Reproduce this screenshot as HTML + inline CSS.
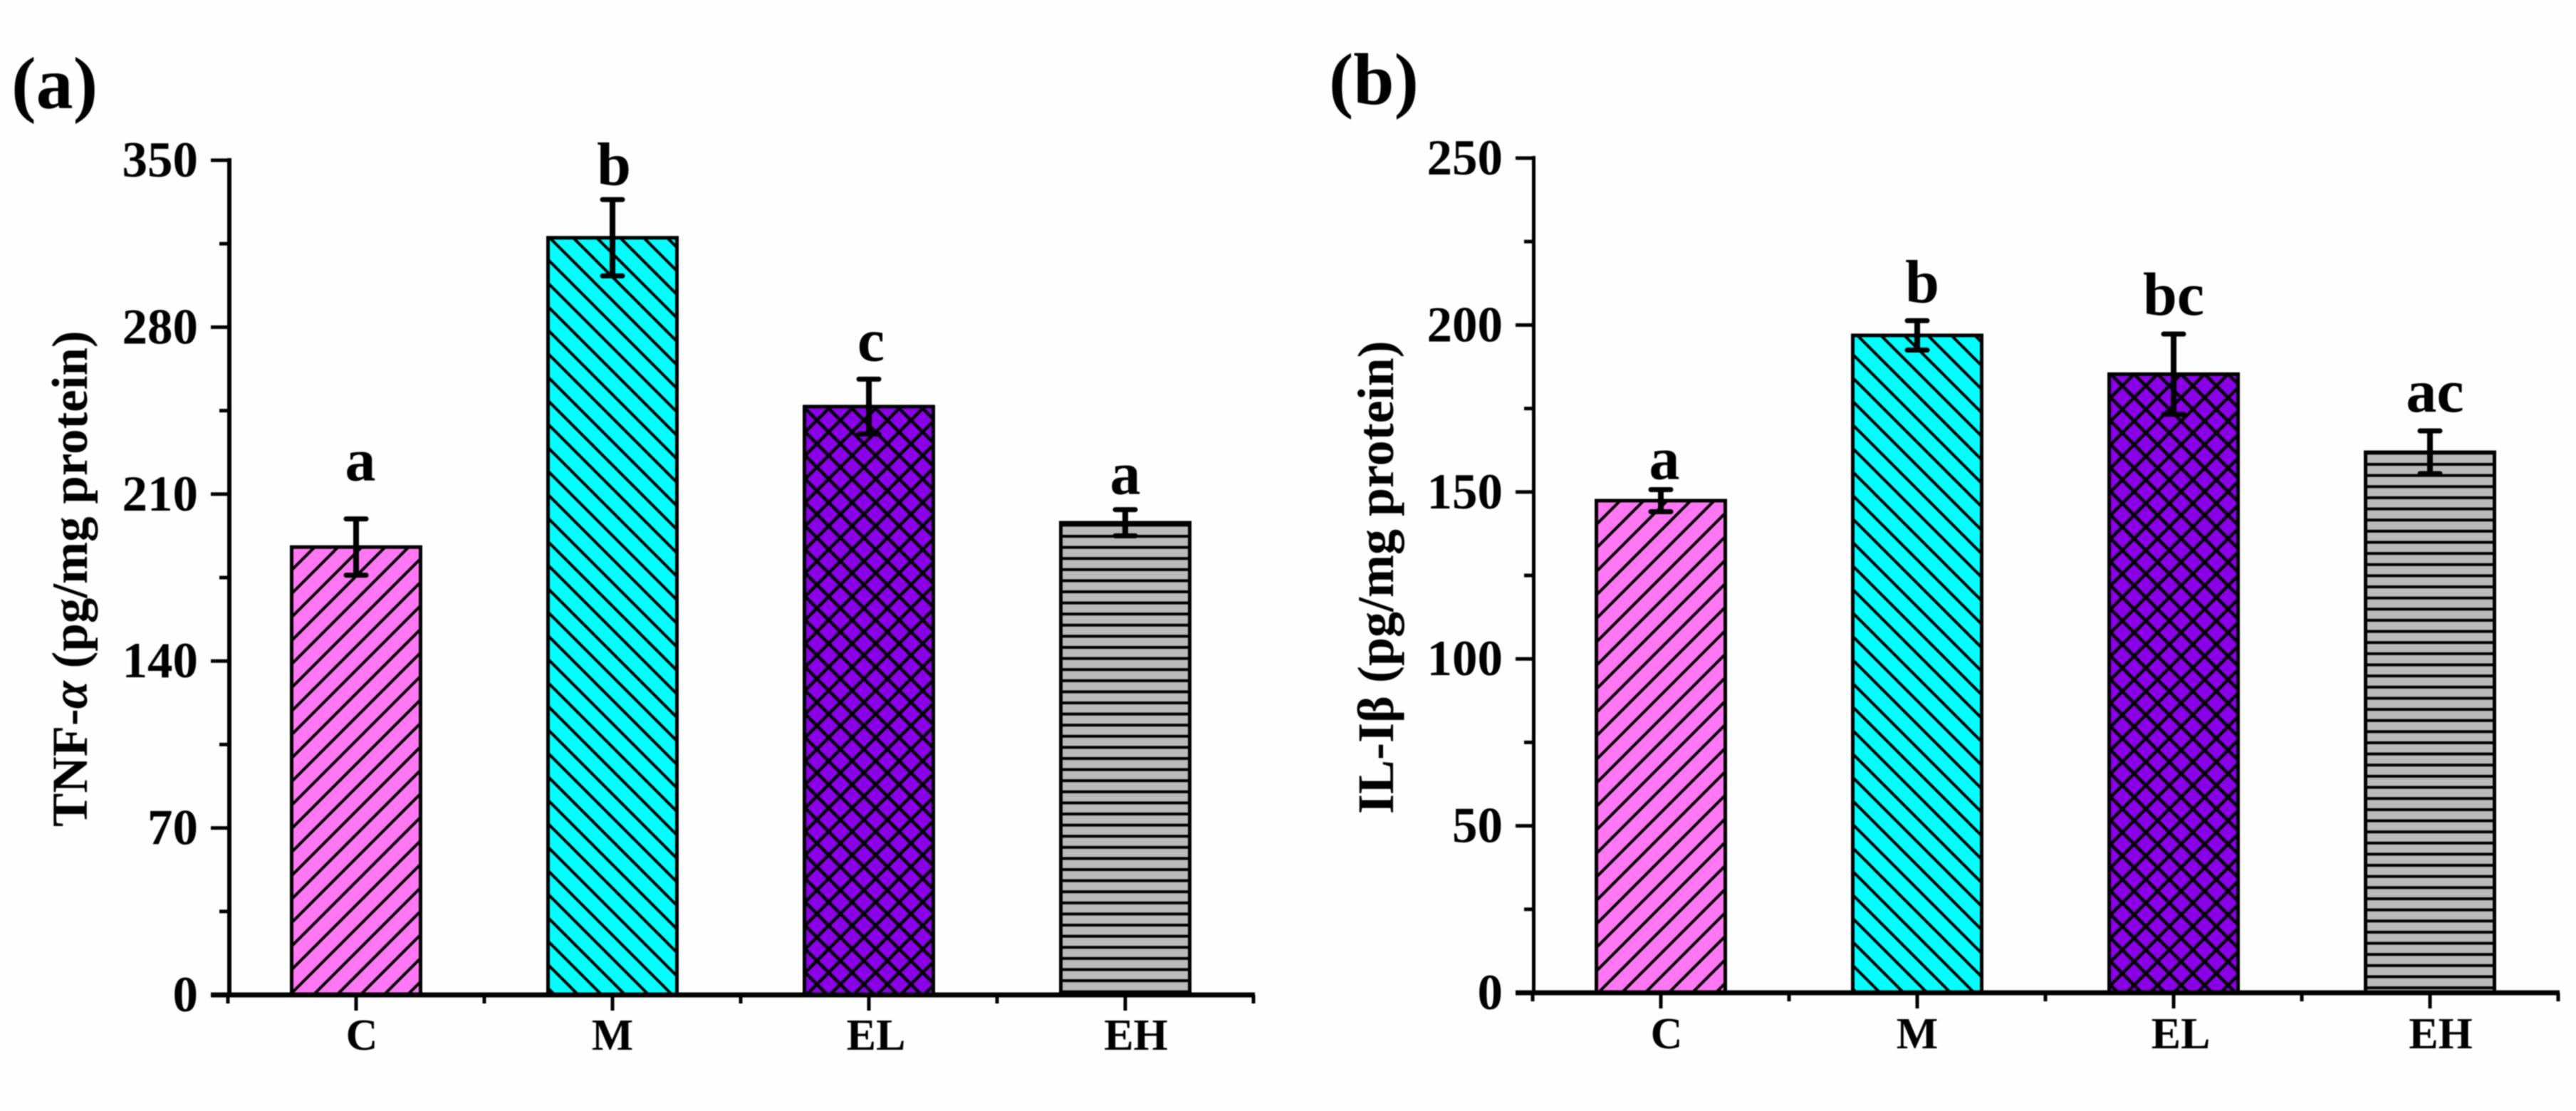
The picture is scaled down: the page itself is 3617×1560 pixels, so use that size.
<!DOCTYPE html>
<html lang="en">
<head>
<meta charset="utf-8">
<title>TNF-α and IL-1β bar charts</title>
<style>
  html, body { margin: 0; padding: 0; background: #fefefe; }
  #figure { display: block; width: 3617px; height: 1560px; filter: blur(0.9px); }
  text { font-family: "Liberation Serif", "DejaVu Serif", serif; font-weight: bold; fill: #000; }
</style>
</head>
<body>
<svg id="figure" xmlns="http://www.w3.org/2000/svg" width="3617" height="1560" viewBox="0 0 3617 1560">
  <defs>
    <pattern id="hatch-pink-a" patternUnits="userSpaceOnUse" width="33" height="33" patternTransform="translate(22 0)">
      <path d="M-4 37L37 -4M-4 4L4 -4M29 37L37 29" stroke="#000" stroke-width="4" fill="none"/>
    </pattern>
    <pattern id="hatch-pink-b" patternUnits="userSpaceOnUse" width="33" height="33" patternTransform="translate(8 0)">
      <path d="M-4 37L37 -4M-4 4L4 -4M29 37L37 29" stroke="#000" stroke-width="4" fill="none"/>
    </pattern>
    <pattern id="hatch-cyan-a" patternUnits="userSpaceOnUse" width="33" height="33" patternTransform="translate(9 0)">
      <path d="M-4 -4L37 37M-4 29L4 37M29 -4L37 4" stroke="#000" stroke-width="4" fill="none"/>
    </pattern>
    <pattern id="hatch-cyan-b" patternUnits="userSpaceOnUse" width="33" height="33" patternTransform="translate(25 0)">
      <path d="M-4 -4L37 37M-4 29L4 37M29 -4L37 4" stroke="#000" stroke-width="4" fill="none"/>
    </pattern>
    <pattern id="hatch-purple-a" patternUnits="userSpaceOnUse" width="33" height="33" patternTransform="translate(21 0)">
      <path d="M-4 37L37 -4M-4 4L4 -4M29 37L37 29" stroke="#000" stroke-width="4.5" fill="none"/>
      <path d="M-40 -40L80 80M-40 -7L80 113M-7 -40L113 80" stroke="#000" stroke-width="4.5" fill="none" transform="translate(8 0)"/>
    </pattern>
    <pattern id="hatch-purple-b" patternUnits="userSpaceOnUse" width="33" height="33" patternTransform="translate(23.7 0)">
      <path d="M-4 37L37 -4M-4 4L4 -4M29 37L37 29" stroke="#000" stroke-width="4.5" fill="none"/>
      <path d="M-40 -40L80 80M-40 -7L80 113M-7 -40L113 80" stroke="#000" stroke-width="4.5" fill="none" transform="translate(5.6 0)"/>
    </pattern>
    <pattern id="hatch-gray-a" patternUnits="userSpaceOnUse" width="33" height="15.6" patternTransform="translate(0 4.2)">
      <rect x="0" y="-2" width="33" height="4" fill="#000"/>
      <rect x="0" y="13.6" width="33" height="4" fill="#000"/>
    </pattern>
    <pattern id="hatch-gray-b" patternUnits="userSpaceOnUse" width="33" height="15.64" patternTransform="translate(0 10.76)">
      <rect x="0" y="-2" width="33" height="4" fill="#000"/>
      <rect x="0" y="13.64" width="33" height="4" fill="#000"/>
    </pattern>
  </defs>
  <g id="panel-a"></g>
  <g id="panel-b"></g>
</svg>
<script>
var categories = ["C", "M", "EL", "EH"];

var tnfValues = [187.8, 317.5, 246.7, 198];
var tnfErrors = [11.8, 16, 11.5, 5.5];
var tnfLetters = ["a", "b", "c", "a"];
var tnfTicks = [0, 70, 140, 210, 280, 350];

var ilValues = [147.4, 196.9, 185.3, 161.9];
var ilErrors = [3.3, 4.4, 12, 6.4];
var ilLetters = ["a", "b", "bc", "ac"];
var ilTicks = [0, 50, 100, 150, 200, 250];

var SVGNS = "http://www.w3.org/2000/svg";

function make(tag, attrs, parent) {
  var node = document.createElementNS(SVGNS, tag);
  for (var key in attrs) {
    node.setAttribute(key, attrs[key]);
  }
  parent.appendChild(node);
  return node;
}

function drawPanel(p) {
  var root = document.getElementById(p.rootId);
  var plotLeft = p.originX;
  var bandWidth = 360;
  var barWidth = 181;
  var maxTick = p.ticks[p.ticks.length - 1];

  function yScale(v) {
    return p.zeroY - (v / maxTick) * (p.zeroY - p.topY);
  }
  function xScale(i) {
    return plotLeft + bandWidth * (i + 0.5);
  }

  var letter = make("text", { x: p.panelX, y: p.panelY, "font-size": p.panelSize }, root);
  
  
  letter.textContent = p.panelText;

  var title = make("text", {
    x: p.titleX, y: p.titleY, "font-size": p.titleSize,
    transform: "rotate(-90 " + p.titleX + " " + p.titleY + ")"
  }, root);
  
  
  var pre = make("tspan", {}, title);
  pre.textContent = p.titlePre;
  var sym = make("tspan", { "font-style": p.titleSymItalic ? "italic" : "normal" }, title);
  sym.textContent = p.titleSym;
  var post = make("tspan", {}, title);
  post.textContent = p.titlePost;

  // bars
  categories.forEach(function (cat, i) {
    var cx = xScale(i);
    var top = yScale(p.values[i]);
    var base = make("rect", {
      x: cx - barWidth / 2, y: top, width: barWidth, height: p.zeroY - top,
      fill: p.fills[i]
    }, root);
    
    
    var bar = make("rect", {
      x: cx - barWidth / 2, y: top, width: barWidth, height: p.zeroY - top,
      fill: "url(#" + p.hatches[i] + ")", stroke: "#000", "stroke-width": 5
    }, root);
    
    
  });

  // error bars
  categories.forEach(function (cat, i) {
    var cx = xScale(i);
    var hi = yScale(p.values[i] + p.errors[i]);
    var lo = yScale(p.values[i] - p.errors[i]);
    var d = "M" + cx + " " + hi + "V" + lo;
    var stem = make("path", { d: d, stroke: "#000", "stroke-width": 8, fill: "none" }, root);
    
    
    var caps = make("path", {
      d: "M" + (cx - 14) + " " + hi + "H" + (cx + 14) + "M" + (cx - 14) + " " + lo + "H" + (cx + 14),
      stroke: "#000", "stroke-width": 7, "stroke-linecap": "round", fill: "none"
    }, root);
    
    

    var sig = make("text", {
      x: cx + p.letterDx[i], y: hi - p.letterLift[i],
      "font-size": 86, "text-anchor": "middle"
    }, root);
    
    
    sig.textContent = p.letters[i];
  });

  // y axis
  var yAxis = make("rect", {
    x: plotLeft - 1, y: p.topY - 3, width: p.axisWidth, height: p.zeroY - p.topY + 6, fill: "#000"
  }, root);
  
  

  p.ticks.forEach(function (t, i) {
    var y = yScale(t);
    var tick = make("rect", { x: plotLeft - 24, y: y - 2.5, width: 24, height: 5, fill: "#000" }, root);
    
    
    var lab = make("text", {
      x: plotLeft - 42, y: y + 23, "font-size": 71, "text-anchor": "end"
    }, root);
    
    
    lab.textContent = String(t);
    if (i < p.ticks.length - 1) {
      var ym = yScale((t + p.ticks[i + 1]) / 2);
      var minor = make("rect", { x: plotLeft - 12, y: ym - 2.5, width: 12, height: 5, fill: "#000" }, root);
      
      
    }
  });

  // x axis
  var xAxis = make("rect", {
    x: plotLeft - 24, y: p.zeroY - 3.5, width: bandWidth * categories.length + 26, height: 7, fill: "#000"
  }, root);
  
  

  categories.forEach(function (cat, i) {
    var cx = xScale(i);
    var tick = make("rect", { x: cx - 2.5, y: p.zeroY, width: 5, height: 22, fill: "#000" }, root);
    
    
    var lab = make("text", {
      x: cx + p.labelDx[i], y: p.labelY, "font-size": 62, "text-anchor": "middle"
    }, root);
    
    
    lab.textContent = cat;
  });
  for (var m = 0; m <= categories.length; m++) {
    var minorX = make("rect", { x: plotLeft + bandWidth * m - 2.5, y: p.zeroY, width: 5, height: 12, fill: "#000" }, root);
    
    
  }
}

drawPanel({
  rootId: "panel-a", originX: 320, topY: 225, zeroY: 1397, axisWidth: 6,
  ticks: tnfTicks, values: tnfValues, errors: tnfErrors, letters: tnfLetters,
  fills: ["#ff77f2", "#00ffff", "#8a00e6", "#bababa"],
  hatches: ["hatch-pink-a", "hatch-cyan-a", "hatch-purple-a", "hatch-gray-a"],
  letterDx: [6, 2, 3, 0], letterLift: [54, 21, 26, 22],
  labelDx: [8, 0, 10, 15], labelY: 1474,
  panelText: "(a)", panelX: 16, panelY: 152, panelSize: 104,
  titleX: 122, titleY: 1161, titleSize: 71,
  titlePre: "TNF-", titleSym: "α", titleSymItalic: true, titlePost: " (pg/mg protein)"
});

drawPanel({
  rootId: "panel-b", originX: 2152, topY: 222, zeroY: 1394, axisWidth: 5,
  ticks: ilTicks, values: ilValues, errors: ilErrors, letters: ilLetters,
  fills: ["#ff77f2", "#00ffff", "#8a00e6", "#bababa"],
  hatches: ["hatch-pink-b", "hatch-cyan-b", "hatch-purple-b", "hatch-gray-b"],
  letterDx: [5, 7, 0, 7], letterLift: [15, 26, 27, 27],
  labelDx: [8, 0, 10, 15], labelY: 1472,
  panelText: "(b)", panelX: 1866, panelY: 146, panelSize: 103,
  titleX: 1956, titleY: 1143, titleSize: 72,
  titlePre: "IL-I", titleSym: "β", titleSymItalic: false, titlePost: " (pg/mg protein)"
});
</script>
</body>
</html>
